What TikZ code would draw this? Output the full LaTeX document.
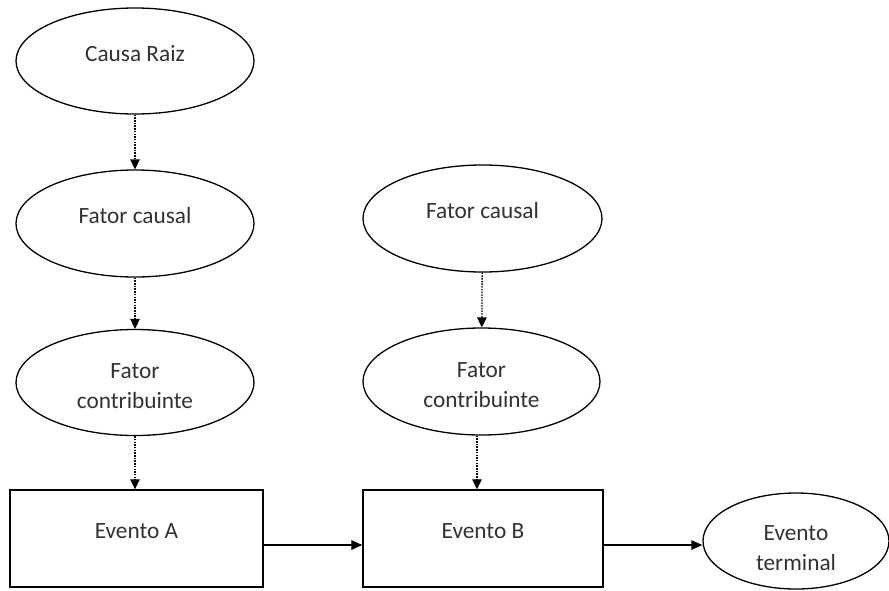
\documentclass[tikz,border=0pt]{standalone}
\usepackage{fontspec}
\setmainfont{Carlito}
\usetikzlibrary{shapes.geometric,arrows.meta,calc}
\definecolor{txt}{RGB}{50,50,50}
\begin{document}
\begin{tikzpicture}[x=1pt,y=-1pt,
  every node/.style={font=\fontsize{23.3}{30}\selectfont, text=txt},
  oval/.style={draw, ellipse, line width=1.3pt, inner sep=0pt, minimum width=238pt, minimum height=106pt, text height=15pt, text depth=15pt},
  evbox/.style={draw, rectangle, line width=1.4pt, inner sep=0pt, minimum height=97pt, text height=15pt, text depth=15pt},
  dotarrow/.style={line width=1.3pt, dash pattern=on 1.5pt off 1.2pt, -{Triangle[length=10pt,width=9.5pt]}},
  solidarrow/.style={line width=1.3pt, -{Triangle[length=11pt,width=9.5pt]}}
]
\useasboundingbox (0,0) rectangle (889,590);

\node[oval] (cr) at (135,61) {Causa Raiz};
\node[oval, minimum height=107pt] (fcl) at (135,223.5) {Fator causal};
\node[oval, text depth=24pt] (fconl) at (135,382.5) {\begin{tabular}[t]{@{}c@{}}Fator\\contribuinte\end{tabular}};

\node[oval, minimum width=239pt, minimum height=107pt] (fcr) at (482.5,218.5) {Fator causal};
\node[oval, minimum width=237pt, minimum height=107pt, text depth=24pt] (fconr) at (481.5,381.5) {\begin{tabular}[t]{@{}c@{}}Fator\\contribuinte\end{tabular}};

\node[evbox, minimum width=253pt] (eva) at (136.5,538.5) {Evento A};
\node[evbox, minimum width=240pt] (evb) at (483,538.5) {Evento B};
\node[oval, minimum width=186pt, minimum height=96pt, text depth=17pt] (term) at (796,541) {\begin{tabular}[t]{@{}c@{}}Evento\\terminal\end{tabular}};

\draw[dotarrow] (cr) -- (fcl);
\draw[dotarrow] (fcl) -- (fconl);
\draw[dotarrow] (fconl.south) -- (fconl.south |- eva.north);
\draw[dotarrow] (fcr) -- (fconr);
\coordinate (fconrb) at ($(fconr.south)+(-4.5pt,0)$);
\draw[dotarrow] (fconrb) -- (fconrb |- evb.north);

\draw[solidarrow] ([yshift=-6.5pt]eva.east) -- ([yshift=-6.5pt]evb.west);
\coordinate (bt) at ([yshift=-6.5pt]evb.east);
\draw[solidarrow] (bt) -- (bt -| term.west);
\end{tikzpicture}
\end{document}
